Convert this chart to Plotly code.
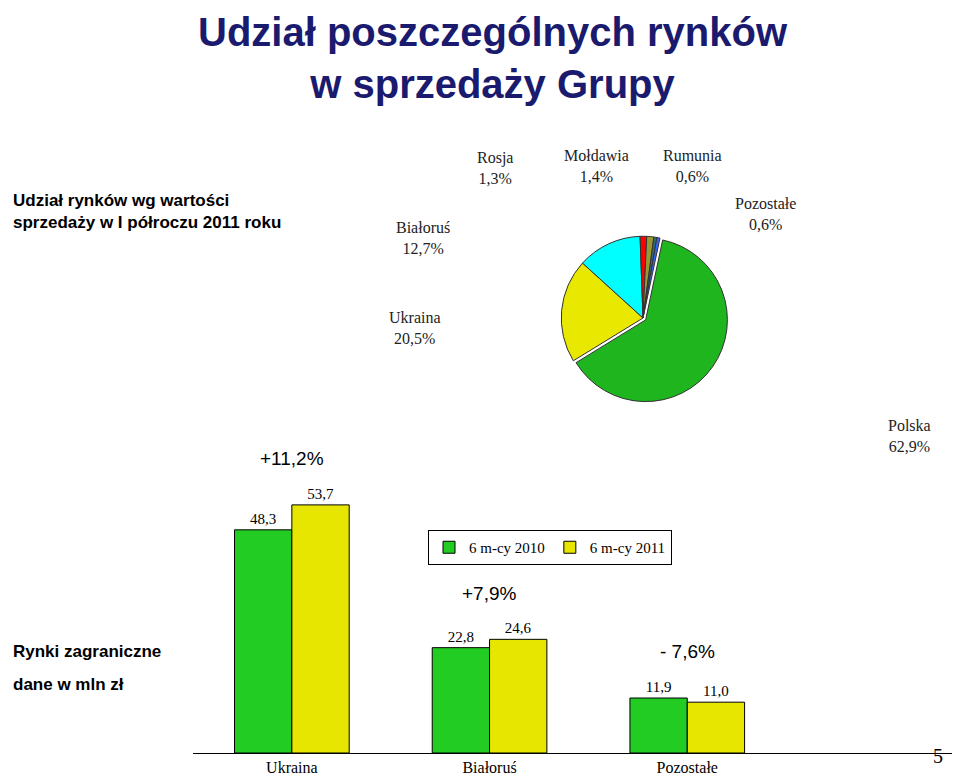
import plotly.graph_objects as go

# pie data: udział rynków w sprzedaży (%)
markets = ["Polska", "Ukraina", "Białoruś", "Rosja", "Mołdawia", "Rumunia", "Pozostałe"]
shares = [62.9, 20.5, 12.7, 1.3, 1.4, 0.6, 0.6]
pie_colors = ["#1fb51f", "#e8e800", "#00ffff", "#ff0000", "#999933", "#2f6f6f", "#3366ff"]

# bar data: rynki zagraniczne, mln zł
countries = ["Ukraina", "Białoruś", "Pozostałe"]
sales_2010 = [48.3, 22.8, 11.9]
sales_2011 = [53.7, 24.6, 11.0]
changes = ["+11,2%", "+7,9%", "- 7,6%"]

W, H = 960, 779

def py(pix):
    return 1 - pix / H

def px_(pix):
    return pix / W

def fmt(v):
    return f"{v:.1f}".replace(".", ",")

fig = go.Figure()

fig.add_trace(go.Pie(
    labels=markets, values=shares, sort=False, direction="clockwise", rotation=12,
    marker=dict(colors=pie_colors, line=dict(color="#333333", width=1)),
    textinfo="none", showlegend=False, hoverinfo="label+percent",
    pull=[0.04, 0, 0, 0, 0, 0, 0],
    domain=dict(x=[px_(460), px_(810)], y=[py(395), py(225)]),
))

fig.add_trace(go.Bar(
    x=countries, y=sales_2010, name="6 m-cy 2010",
    marker=dict(color="#22cc22", line=dict(color="black", width=1)),
    text=[fmt(v) for v in sales_2010], textposition="outside",
    textfont=dict(family="Liberation Serif", size=15, color="black"),
))
fig.add_trace(go.Bar(
    x=countries, y=sales_2011, name="6 m-cy 2011",
    marker=dict(color="#e6e600", line=dict(color="black", width=1)),
    text=[fmt(v) for v in sales_2011], textposition="outside",
    textfont=dict(family="Liberation Serif", size=15, color="black"),
))

annotations = [
    dict(x=px_(485), y=py(50), xref="paper", yref="paper", yanchor="middle", showarrow=False,
         text="<b>Udział poszczególnych rynków<br>w sprzedaży Grupy</b>",
         font=dict(family="Liberation Sans", size=40, color="#1a1a6e")),
    dict(x=0.003, y=py(204), xref="paper", yref="paper", xanchor="left", yanchor="middle",
         showarrow=False, align="left",
         text="<b>Udział rynków wg wartości<br>sprzedaży w I półroczu 2011 roku</b>",
         font=dict(family="Liberation Sans", size=17, color="black")),
    dict(x=0.003, y=py(643), xref="paper", yref="paper", xanchor="left", yanchor="middle", showarrow=False,
         text="<b>Rynki zagraniczne</b>", font=dict(family="Liberation Sans", size=17, color="black")),
    dict(x=0.003, y=py(676), xref="paper", yref="paper", xanchor="left", yanchor="middle", showarrow=False,
         text="<b>dane w mln zł</b>", font=dict(family="Liberation Sans", size=17, color="black")),
    dict(x=px_(937), y=py(748), xref="paper", yref="paper", yanchor="middle", showarrow=False,
         text="5", font=dict(family="Liberation Serif", size=20, color="black")),
]

pie_labels = [
    ("Polska<br>62,9%", 925, 428),
    ("Ukraina<br>20,5%", 407, 320),
    ("Białoruś<br>12,7%", 415, 230),
    ("Rosja<br>1,3%", 487, 160),
    ("Mołdawia<br>1,4%", 588, 158),
    ("Rumunia<br>0,6%", 716, 158),
    ("Pozostałe<br>0,6%", 790, 206),
]
for txt, x, y in pie_labels:
    annotations.append(dict(x=px_(x), y=py(y), xref="paper", yref="paper", yanchor="middle",
                            showarrow=False, text=txt,
                            font=dict(family="Liberation Serif", size=16, color="#222222")))

for i, ch in enumerate(changes):
    annotations.append(dict(x=i, y=max(sales_2010[i], sales_2011[i]) + 10, xref="x", yref="y",
                            showarrow=False, text=ch,
                            font=dict(family="Liberation Sans", size=19, color="black")))

fig.update_layout(
    width=W, height=H, margin=dict(l=0, r=0, t=0, b=0),
    paper_bgcolor="white", plot_bgcolor="white",
    barmode="group", bargap=0.42, bargroupgap=0,
    xaxis=dict(domain=[px_(185), 1], range=[-0.5, 3.42], showline=True, linecolor="black",
               ticks="", tickfont=dict(family="Liberation Serif", size=16, color="black")),
    yaxis=dict(domain=[py(745), py(380)], range=[0, 79], visible=False),
    legend=dict(orientation="h", x=px_(420), y=py(522), xanchor="left", yanchor="top",
                bordercolor="black", borderwidth=1, bgcolor="white",
                font=dict(family="Liberation Serif", size=15, color="black")),
    annotations=annotations,
)

fig.write_html("out.html")
